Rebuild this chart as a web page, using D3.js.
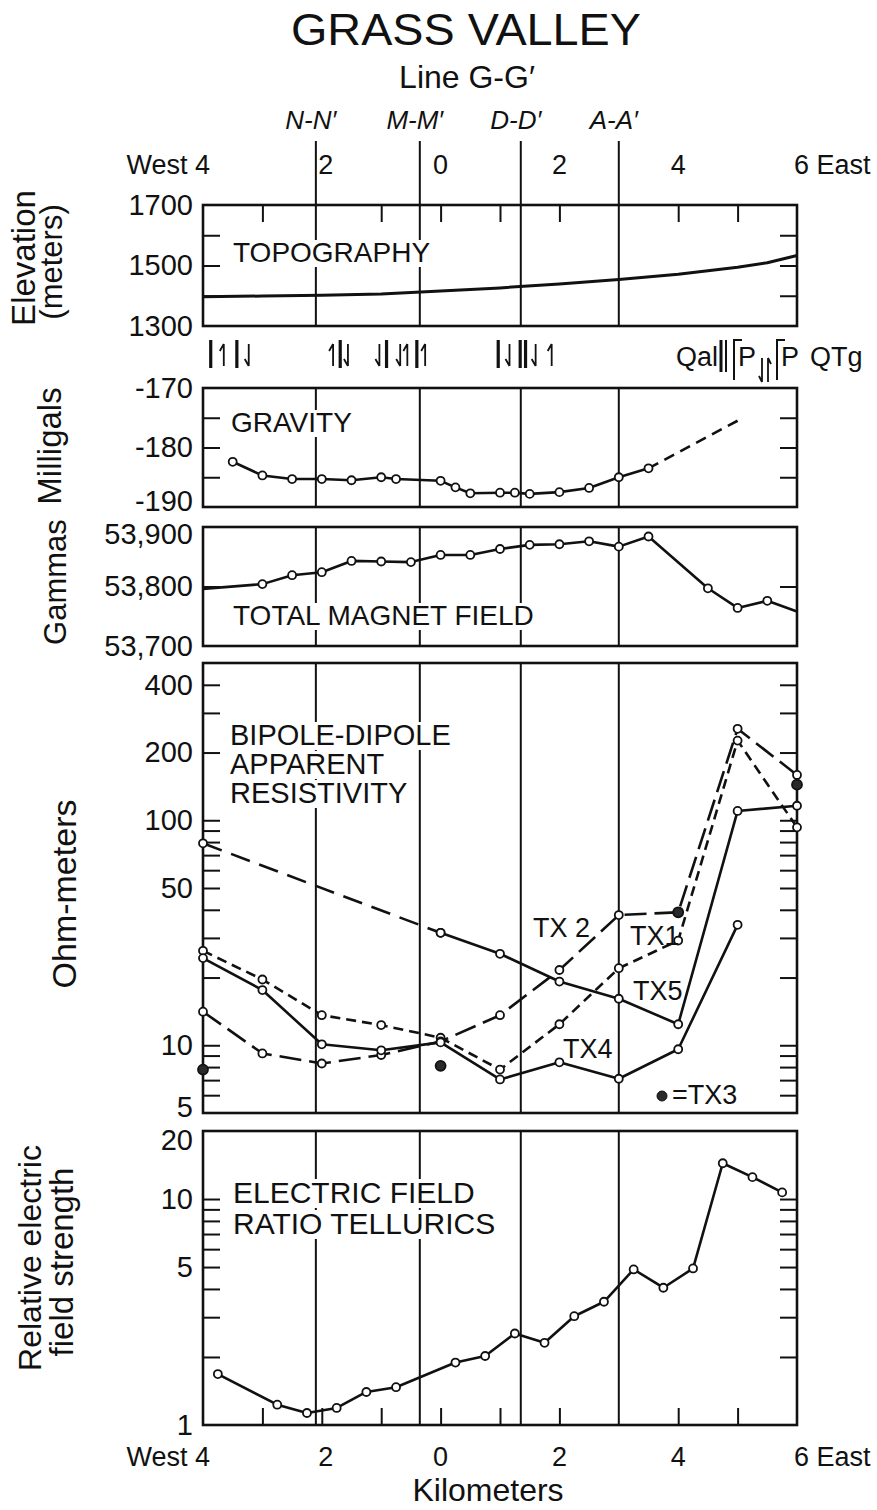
<!DOCTYPE html>
<html><head><meta charset="utf-8">
<script src="https://cdn.jsdelivr.net/npm/d3@7"></script>
<style>
body{margin:0;background:#fff}
svg{display:block}
text{font-family:"Liberation Sans",Arial,sans-serif;fill:#111}
</style>
</head><body>
<svg id="c" width="877" height="1510"></svg>
<script>
// ---------------- DATA ----------------
const kmTickValues = [-4, -2, 0, 2, 4, 6];
const kmTickLabels = ["West 4", "2", "0", "2", "4", "6 East"];
const sectionNames = ["N-N\u2032", "M-M\u2032", "D-D\u2032", "A-A\u2032"];
const sectionKm = [-2.1, -0.35, 1.35, 3.0];

// Topography (elevation, m)
const topoKm   = [-4, -3, -2, -1, 0, 1, 2, 3, 4, 5, 5.5, 6];
const topoElev = [1397, 1399, 1402, 1406, 1416, 1426, 1439, 1454, 1471, 1494, 1509, 1533];

// Gravity (milligals)
const gravKm  = [-3.5, -3, -2.5, -2, -1.5, -1, -0.75, 0, 0.25, 0.5, 1, 1.25, 1.5, 2, 2.5, 3, 3.5];
const gravVal = [-182.4, -184.7, -185.3, -185.3, -185.5, -185.0, -185.3, -185.6, -186.7, -187.7, -187.6, -187.6, -187.8, -187.5, -186.8, -185.0, -183.5];
const gravExtKm  = [3.5, 5.0];
const gravExtVal = [-183.5, -175.5];

// Total magnetic field (gammas)
const magKm  = [-4, -3, -2.5, -2, -1.5, -1, -0.5, 0, 0.5, 1, 1.5, 2, 2.5, 3, 3.5, 4.5, 5, 5.5, 6];
const magVal = [53796, 53804, 53819, 53824, 53843, 53842, 53841, 53853, 53853, 53863, 53870, 53871, 53876, 53867, 53884, 53797, 53764, 53776, 53758];
const magMarked = [false, true, true, true, true, true, true, true, true, true, true, true, true, true, true, true, true, true, false];

// Bipole-dipole apparent resistivity (ohm-meters)
const resKm = [-4, -3, -2, -1, 0, 1, 2, 3, 4, 5, 6];
const tx1 = [26.3, 19.6, 13.6, 12.3, 10.8, 7.8, 12.4, 22, 29.2, 226, 93];
const tx2 = [14.1, 9.2, 8.3, 9.05, 10.4, 13.6, 21.6, 37.9, 39, 255, 159];
const tx4Km = [-4, -3, -2, -1, 0, 1, 2, 3, 4, 5];
const tx4 = [24.4, 17.6, 10.1, 9.5, 10.3, 7.05, 8.4, 7.1, 9.6, 34.3];
const tx5DashKm = [-4, 0];
const tx5Dash = [79, 31.6];
const tx5Km = [0, 1, 2, 3, 4, 5, 6];
const tx5 = [31.6, 25.5, 19.2, 16.1, 12.4, 110, 116];
const tx3Km = [-4, 0, 4, 6];
const tx3 = [7.8, 8.1, 39, 144];

// Electric field ratio tellurics (relative)
const telKm  = [-3.75, -2.75, -2.25, -1.75, -1.25, -0.75, 0.25, 0.75, 1.25, 1.75, 2.25, 2.75, 3.25, 3.75, 4.25, 4.75, 5.25, 5.75];
const telVal = [1.68, 1.23, 1.13, 1.19, 1.40, 1.47, 1.89, 2.02, 2.54, 2.31, 3.03, 3.51, 4.88, 4.05, 4.93, 14.4, 12.5, 10.7];

// Axis tick values / labels
const topoLabels = [1300, 1500, 1700];
const topoTicks = [1400, 1500, 1600];
const gravLabels = [-190, -180, -170];
const gravTicks = [-185, -180, -175];
const magLabels = [53700, 53800, 53900];
const magTicks = [53800];
const resLabels = [5, 10, 50, 100, 200, 400];
const resTicks = [6, 7, 8, 9, 10, 20, 30, 40, 50, 60, 70, 80, 90, 100, 200, 300, 400];
const telLabels = [1, 5, 10, 20];
const telTicks = [2, 3, 4, 5, 6, 7, 8, 9, 10];
const topKmTicks = [-3, -1, 0, 1, 2, 4, 5];
const botKmTicks = [-3, -2, -1, 0, 1, 2, 4, 5];

// Fault / geology symbols along the profile (km positions)
const faultBarKm  = [-3.87, -3.43, -1.69, -0.91, -0.40, 0.97, 1.34, 1.43];
const faultUpKm   = [-3.65, -1.81, -0.56, -0.26, 1.87];
const faultDownKm = [-3.23, -1.56, -1.03, -0.68, 1.16, 1.60];

// ---------------- DRAW ----------------
const svg = d3.select("#c");
const X = d3.scaleLinear().domain([-4, 6]).range([203, 797]);
const L = X.range()[0], R = X.range()[1];
const INK = "#111";
const TL = 17; // tick length

const yTopo = d3.scaleLinear().domain([1300, 1700]).range([326, 205]);
const yGrav = d3.scaleLinear().domain([-190, -170]).range([507, 388]);
const yMag  = d3.scaleLinear().domain([53700, 53900]).range([646, 527]);
const yRes  = d3.scaleLog().domain([5, 500]).range([1113, 663]);
const yTel  = d3.scaleLog().domain([1, 20]).range([1425, 1131]);

// Title
svg.append("text").attr("x", 466).attr("y", 45).attr("text-anchor", "middle")
  .attr("font-size", 44).attr("textLength", 350).attr("lengthAdjust", "spacingAndGlyphs").text("GRASS VALLEY");
svg.append("text").attr("x", 467).attr("y", 88).attr("text-anchor", "middle")
  .attr("font-size", 32).text("Line G-G\u2032");

// Section names
sectionNames.forEach((n, i) => {
  svg.append("text").attr("x", X(sectionKm[i]) - 5).attr("y", 129).attr("text-anchor", "middle")
    .attr("font-size", 26).attr("font-style", "italic").text(n);
});

// km axis labels (top and bottom)
function kmLabels(yBase) {
  kmTickValues.forEach((v, i) => {
    const t = svg.append("text").attr("y", yBase).attr("font-size", 27).text(kmTickLabels[i]);
    if (i === 0) t.attr("x", X(v) + 7).attr("text-anchor", "end");
    else if (i === kmTickValues.length - 1) t.attr("x", X(v) - 3).attr("text-anchor", "start");
    else t.attr("x", X(v) + (i === 1 ? 4 : 0)).attr("text-anchor", "middle");
  });
}
kmLabels(174);
kmLabels(1466);
svg.append("text").attr("x", 488).attr("y", 1501).attr("text-anchor", "middle")
  .attr("font-size", 32).text("Kilometers");

// section lines above first panel
sectionKm.forEach(k => {
  svg.append("line").attr("x1", X(k)).attr("x2", X(k)).attr("y1", 141).attr("y2", 205)
    .attr("stroke", INK).attr("stroke-width", 2);
});

const panels = [
  {y: yTopo, labels: topoLabels, fmt: d3.format("d"), ticks: topoTicks, nudge: {}},
  {y: yGrav, labels: gravLabels, fmt: d => "-" + Math.abs(d), ticks: gravTicks, nudge: {"-190": -6}},
  {y: yMag, labels: magLabels, fmt: d3.format(","), ticks: magTicks, nudge: {"53900": 7}},
  {y: yRes, labels: resLabels, fmt: d3.format("d"), ticks: resTicks, nudge: {"5": -6}},
  {y: yTel, labels: telLabels, fmt: d3.format("d"), ticks: telTicks, nudge: {"20": 9}}
];

panels.forEach((p) => {
  const g = svg.append("g");
  const [bot, top] = p.y.range();
  // section lines
  sectionKm.forEach(k => {
    g.append("line").attr("x1", X(k)).attr("x2", X(k)).attr("y1", top).attr("y2", bot)
      .attr("stroke", INK).attr("stroke-width", 2);
  });
  // frame
  g.append("rect").attr("x", L).attr("y", top).attr("width", R - L).attr("height", bot - top)
    .attr("fill", "none").attr("stroke", INK).attr("stroke-width", 2.6);
  // inward ticks, both sides
  const la = d3.axisLeft(p.y).tickValues(p.ticks).tickSize(-TL).tickFormat("");
  const ra = d3.axisRight(p.y).tickValues(p.ticks).tickSize(-TL).tickFormat("");
  g.append("g").attr("transform", `translate(${L},0)`).call(la)
    .call(s => s.select(".domain").remove()).selectAll("line").attr("stroke", INK).attr("stroke-width", 2);
  g.append("g").attr("transform", `translate(${R},0)`).call(ra)
    .call(s => s.select(".domain").remove()).selectAll("line").attr("stroke", INK).attr("stroke-width", 2);
  // labels
  const lab = d3.axisLeft(p.y).tickValues(p.labels).tickSize(0).tickPadding(10).tickFormat(p.fmt);
  g.append("g").attr("transform", `translate(${L},0)`).call(lab)
    .call(s => s.select(".domain").remove())
    .selectAll("text").attr("font-size", 29).attr("font-family", "Liberation Sans, Arial, sans-serif").attr("fill", INK)
    .attr("y", d => p.nudge[String(d)] || 0);
});

// km ticks on topography top and telluric bottom
const topAx = d3.axisTop(X).tickValues(topKmTicks).tickSize(-TL).tickFormat("");
svg.append("g").attr("transform", `translate(0,${yTopo.range()[1]})`).call(topAx)
  .call(s => s.select(".domain").remove()).selectAll("line").attr("stroke", INK).attr("stroke-width", 2);
const botAx = d3.axisBottom(X).tickValues(botKmTicks).tickSize(-TL).tickFormat("");
svg.append("g").attr("transform", `translate(0,${yTel.range()[0]})`).call(botAx)
  .call(s => s.select(".domain").remove()).selectAll("line").attr("stroke", INK).attr("stroke-width", 2);

// panel labels with white background breaking section lines
function label(lines, x, baselines, fs) {
  const g = svg.append("g");
  lines.forEach((t, i) => {
    const r = g.append("rect").attr("fill", "#fff");
    const tx = g.append("text").attr("x", x).attr("y", baselines[i]).attr("font-size", fs).text(t);
    const b = tx.node().getBBox();
    r.attr("x", b.x - 4).attr("y", b.y + 3).attr("width", b.width + 8).attr("height", b.height - 4);
  });
}
label(["TOPOGRAPHY"], 233, [262], 28);
label(["GRAVITY"], 231, [432], 28);
label(["TOTAL MAGNET FIELD"], 233, [625], 28);
label(["BIPOLE-DIPOLE", "APPARENT", "RESISTIVITY"], 230, [745, 774, 803], 29);
label(["ELECTRIC FIELD", "RATIO TELLURICS"], 233, [1203, 1234], 30);

// axis titles (rotated)
function vtitle(t, x, y, fs) {
  svg.append("text").attr("transform", `translate(${x},${y}) rotate(-90)`)
    .attr("text-anchor", "middle").attr("font-size", fs).text(t);
}
vtitle("Elevation", 35, 258, 33);
vtitle("(meters)", 62, 262, 31);
vtitle("Milligals", 61, 446, 33);
vtitle("Gammas", 66, 582, 31);
vtitle("Ohm-meters", 76, 894, 34);
vtitle("Relative electric", 41, 1258, 32);
vtitle("field strength", 73, 1262, 33);

// ---- series drawing helpers ----
function series(kms, vals, yS, dash, w) {
  const line = d3.line().x((d, i) => X(kms[i])).y(d => yS(d));
  svg.append("path").datum(vals).attr("d", line).attr("fill", "none")
    .attr("stroke", INK).attr("stroke-width", w || 2.6).attr("stroke-linejoin", "round")
    .attr("stroke-dasharray", dash || null);
}
function markers(kms, vals, yS, mask, filled, r) {
  const pts = vals.map((v, i) => ({x: kms[i], v, show: !mask || mask[i]})).filter(d => d.show);
  svg.append("g").selectAll("circle").data(pts).join("circle")
    .attr("cx", d => X(d.x)).attr("cy", d => yS(d.v))
    .attr("r", r || 4).attr("fill", filled ? "#2a2a2a" : "#fff").attr("stroke", INK).attr("stroke-width", 1.8);
}

// Topography
series(topoKm, topoElev, yTopo, null, 3);

// Gravity
series(gravKm, gravVal, yGrav);
series(gravExtKm, gravExtVal, yGrav, "11,7");
markers(gravKm, gravVal, yGrav);

// Magnetics
series(magKm, magVal, yMag);
markers(magKm, magVal, yMag, magMarked);

// Resistivity
series(resKm, tx1, yRes, "10,6");
series(resKm, tx2, yRes, "22,8");
series(tx4Km, tx4, yRes);
series(tx5DashKm, tx5Dash, yRes, "20,10");
series(tx5Km, tx5, yRes);
markers(resKm, tx1, yRes);
markers(resKm, tx2, yRes);
markers(tx4Km, tx4, yRes);
markers(tx5DashKm, tx5Dash, yRes);
markers(tx5Km, tx5, yRes);
markers(tx3Km, tx3, yRes, null, true, 5);

// series labels
const txLabelText = ["TX 2", "TX1", "TX5", "TX4", "=TX3"];
const txLabelPos = [[533, 937], [630, 945], [633, 1000], [563, 1058], [672, 1104]];
txLabelText.forEach((t, i) => {
  svg.append("text").attr("x", txLabelPos[i][0]).attr("y", txLabelPos[i][1]).attr("font-size", 27).text(t);
});
svg.append("circle").attr("cx", 662).attr("cy", 1096).attr("r", 5).attr("fill", "#2a2a2a").attr("stroke", INK);

// Tellurics
series(telKm, telVal, yTel);
markers(telKm, telVal, yTel);

// Fault / geology symbols row
const fy1 = 340, fy2 = 368;
const fg = svg.append("g").attr("stroke", INK).attr("fill", "none");
faultBarKm.forEach(k => fg.append("line").attr("x1", X(k)).attr("x2", X(k)).attr("y1", fy1).attr("y2", fy2).attr("stroke-width", 3.2));
faultUpKm.forEach(k => {
  const x = X(k);
  fg.append("path").attr("d", `M${x},${fy2 - 2}V${fy1 + 4}M${x},${fy1 + 4}l-4,7`).attr("stroke-width", 1.8);
});
faultDownKm.forEach(k => {
  const x = X(k);
  fg.append("path").attr("d", `M${x},${fy1 + 4}V${fy2 - 2}M${x},${fy2 - 2}l-4,-7`).attr("stroke-width", 1.8);
});
// geology unit symbols at east end
svg.append("text").attr("x", 676).attr("y", 366).attr("font-size", 27).text("Qal");
fg.append("line").attr("x1", 721).attr("x2", 721).attr("y1", 340).attr("y2", 372).attr("stroke-width", 3);
fg.append("line").attr("x1", 726).attr("x2", 726).attr("y1", 340).attr("y2", 372).attr("stroke-width", 2);
fg.append("path").attr("d", "M733,340H742M734,340V380").attr("stroke-width", 2);
svg.append("text").attr("x", 738).attr("y", 366).attr("font-size", 27).text("P");
fg.append("path").attr("d", "M762,358V382M762,382l-3,-6").attr("stroke-width", 1.8);
fg.append("path").attr("d", "M768,382V358M768,358l3,6").attr("stroke-width", 1.8);
fg.append("path").attr("d", "M776,340H785M777,340V380").attr("stroke-width", 2);
svg.append("text").attr("x", 781).attr("y", 366).attr("font-size", 27).text("P");
svg.append("text").attr("x", 810).attr("y", 366).attr("font-size", 27).text("QTg");
</script>
</body></html>
